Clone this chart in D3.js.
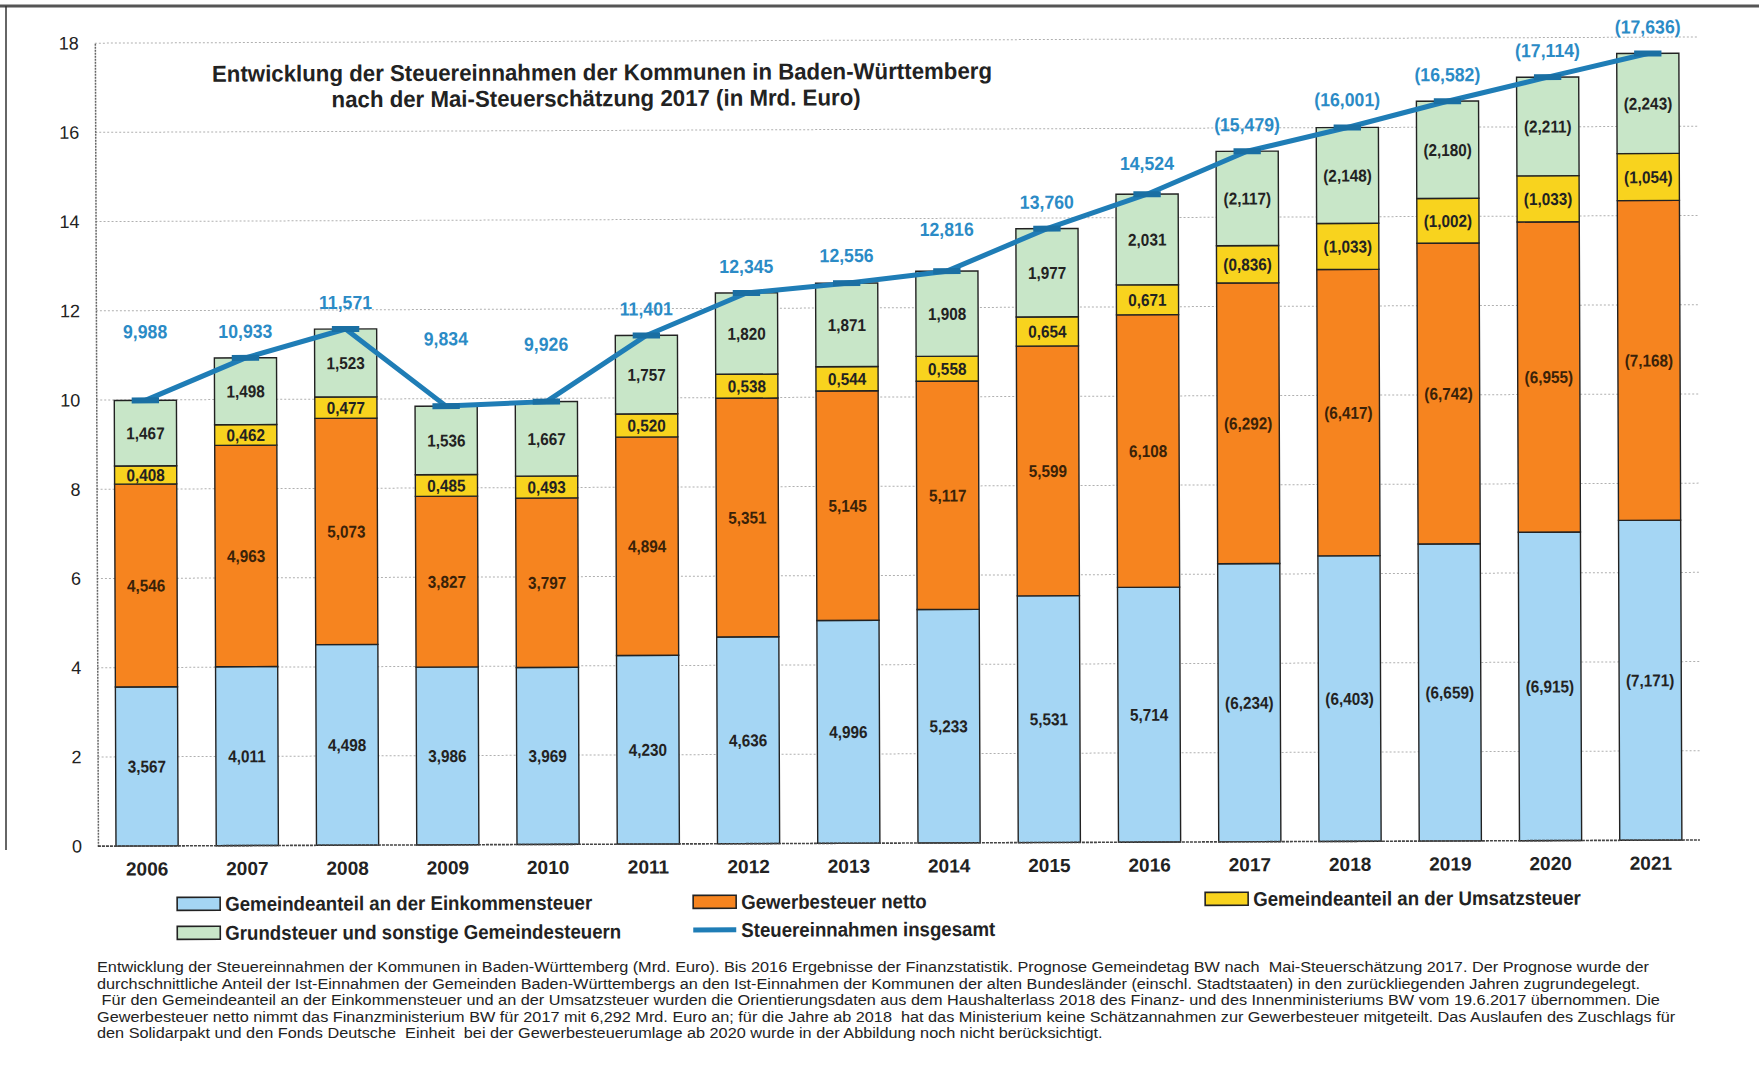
<!DOCTYPE html>
<html>
<head>
<meta charset="utf-8">
<script src="https://cdn.jsdelivr.net/npm/d3@7"></script>
<style>
  html, body { margin: 0; padding: 0; background: #fff; }
  svg { display: block; font-family: "Liberation Sans", Arial, sans-serif; }
</style>
</head>
<body>
<svg id="chart" width="1759" height="1076"></svg>
<script>
// ---------- data ----------
const years = ["2006","2007","2008","2009","2010","2011","2012","2013","2014","2015","2016","2017","2018","2019","2020","2021"];
const forecastFrom = "2017";
const einkommensteuer = [3.567, 4.011, 4.498, 3.986, 3.969, 4.230, 4.636, 4.996, 5.233, 5.531, 5.714, 6.234, 6.403, 6.659, 6.915, 7.171];
const gewerbesteuer   = [4.546, 4.963, 5.073, 3.827, 3.797, 4.894, 5.351, 5.145, 5.117, 5.599, 6.108, 6.292, 6.417, 6.742, 6.955, 7.168];
const umsatzsteuer    = [0.408, 0.462, 0.477, 0.485, 0.493, 0.520, 0.538, 0.544, 0.558, 0.654, 0.671, 0.836, 1.033, 1.002, 1.033, 1.054];
const grundsteuer     = [1.467, 1.498, 1.523, 1.536, 1.667, 1.757, 1.820, 1.871, 1.908, 1.977, 2.031, 2.117, 2.148, 2.180, 2.211, 2.243];
const insgesamt       = [9.988, 10.933, 11.571, 9.834, 9.926, 11.401, 12.345, 12.556, 12.816, 13.760, 14.524, 15.479, 16.001, 16.582, 17.114, 17.636];
const yTicks = [0, 2, 4, 6, 8, 10, 12, 14, 16, 18];

const seriesNames = [
  "Gemeindeanteil an der Einkommensteuer",
  "Gewerbesteuer netto",
  "Gemeindeanteil an der Umsatzsteuer",
  "Grundsteuer und sonstige Gemeindesteuern"
];
const lineName = "Steuereinnahmen insgesamt";
const titleLines = [
  "Entwicklung der Steuereinnahmen der Kommunen in Baden-Württemberg",
  "nach der Mai-Steuerschätzung 2017 (in Mrd. Euro)"
];
const footnoteLines = [
  "Entwicklung der Steuereinnahmen der Kommunen in Baden-Württemberg (Mrd. Euro). Bis 2016 Ergebnisse der Finanzstatistik. Prognose Gemeindetag BW nach  Mai-Steuerschätzung 2017. Der Prognose wurde der",
  "durchschnittliche Anteil der Ist-Einnahmen der Gemeinden Baden-Württembergs an den Ist-Einnahmen der Kommunen der alten Bundesländer (einschl. Stadtstaaten) in den zurückliegenden Jahren zugrundegelegt.",
  " Für den Gemeindeanteil an der Einkommensteuer und an der Umsatzsteuer wurden die Orientierungsdaten aus dem Haushalterlass 2018 des Finanz- und des Innenministeriums BW vom 19.6.2017 übernommen. Die",
  "Gewerbesteuer netto nimmt das Finanzministerium BW für 2017 mit 6,292 Mrd. Euro an; für die Jahre ab 2018  hat das Ministerium keine Schätzannahmen zur Gewerbesteuer mitgeteilt. Das Auslaufen des Zuschlags für",
  "den Solidarpakt und den Fonds Deutsche  Einheit  bei der Gewerbesteuerumlage ab 2020 wurde in der Abbildung noch nicht berücksichtigt."
];

// ---------- styles ----------
const colors = ["#a5d6f4", "#f6841f", "#f8d31e", "#c8e6c8"];
const lineColor = "#1f7db6";
const totalLabelColor = "#2b8bc6";
const textColor = "#222";

// ---------- helpers ----------
function squeeze(sel, factor) {
  sel.each(function () {
    const w = this.getComputedTextLength();
    d3.select(this).attr("textLength", w * factor).attr("lengthAdjust", "spacingAndGlyphs");
  });
}

// ---------- setup ----------
const root = d3.select("#chart");
const W = 1759, H = 1076;

// frame lines of the scanned page
root.append("line").attr("x1", 0).attr("x2", W).attr("y1", 6).attr("y2", 6)
  .attr("stroke", "#555").attr("stroke-width", 3);
root.append("line").attr("x1", 6).attr("x2", 6).attr("y1", 6).attr("y2", 850)
  .attr("stroke", "#333").attr("stroke-width", 1.5);

// the scanned chart is slightly tilted
const svg = root.append("g").attr("transform", "rotate(-0.22, 400, 600)");

const x = d3.scaleBand().domain(years).range([97, 1699]).paddingInner(0.38).paddingOuter(0.18);
const y = d3.scaleLinear().domain([0, 18]).range([845, 42]);

const fmt = v => d3.format(".3f")(v).replace(".", ",");
const isForecast = yr => +yr >= +forecastFrom;
const lab = (v, yr) => isForecast(yr) ? "(" + fmt(v) + ")" : fmt(v);

// gridlines
const grid = svg.append("g");
grid.selectAll("line").data(yTicks.filter(d => d > 0)).join("line")
  .attr("x1", x.range()[0]).attr("x2", x.range()[1])
  .attr("y1", d => y(d)).attr("y2", d => y(d))
  .attr("stroke", "#b0b0b0").attr("stroke-width", 1).attr("stroke-dasharray", "2,2");

// y axis
const yAxis = d3.axisLeft(y).tickValues(yTicks).tickSize(0).tickPadding(16).tickFormat(d3.format("d"));
const ya = svg.append("g").attr("transform", `translate(${x.range()[0]},0)`).call(yAxis);
ya.select(".domain").attr("stroke", "#666").attr("stroke-width", 1.5).attr("stroke-dasharray", "2,1");
ya.selectAll("text").attr("font-size", 18).attr("fill", textColor)
  .attr("font-family", "'Liberation Sans', Arial, sans-serif");

// stacked data
const rows = years.map((yr, i) => ({
  year: yr,
  s0: einkommensteuer[i], s1: gewerbesteuer[i], s2: umsatzsteuer[i], s3: grundsteuer[i]
}));
const stack = d3.stack().keys(["s0", "s1", "s2", "s3"]);
const layers = stack(rows);

const barG = svg.append("g");
layers.forEach((layer, li) => {
  barG.append("g").selectAll("rect").data(layer).join("rect")
    .attr("x", d => x(d.data.year))
    .attr("width", x.bandwidth())
    .attr("y", d => y(d[1]))
    .attr("height", d => y(d[0]) - y(d[1]))
    .attr("fill", colors[li])
    .attr("stroke", "#222").attr("stroke-width", 1.4);
});

// baseline
svg.append("line").attr("x1", x.range()[0]).attr("x2", x.range()[1])
  .attr("y1", y(0)).attr("y2", y(0))
  .attr("stroke", "#444").attr("stroke-width", 1.6).attr("stroke-dasharray", "3,1");

// segment labels
const labG = svg.append("g").attr("font-weight", "bold").attr("font-size", 17)
  .attr("text-anchor", "middle").attr("fill", textColor);
layers.forEach((layer, li) => {
  const t = labG.append("g").selectAll("text").data(layer).join("text")
    .attr("x", d => x(d.data.year) + x.bandwidth() / 2)
    .attr("y", d => y((d[0] + d[1]) / 2))
    .attr("dy", "0.36em")
    .attr("fill", li === 1 ? "#3a2208" : textColor)
    .text(d => lab(d[1] - d[0], d.data.year));
  squeeze(t, 0.9);
});

// total line
const cx = yr => x(yr) + x.bandwidth() / 2;
const line = d3.line().x((d, i) => cx(years[i])).y(d => y(d));
svg.append("path").datum(insgesamt).attr("d", line)
  .attr("fill", "none").attr("stroke", lineColor).attr("stroke-width", 5)
  .attr("stroke-linejoin", "round").attr("stroke-linecap", "round");
svg.append("g").selectAll("rect").data(insgesamt).join("rect")
  .attr("x", (d, i) => cx(years[i]) - x.bandwidth() * 0.22)
  .attr("width", x.bandwidth() * 0.44)
  .attr("y", d => y(d) - 3).attr("height", 6)
  .attr("fill", "#1a6fa3");

// total labels, lifted above the line around each point
const tl = svg.append("g").selectAll("text").data(insgesamt).join("text")
  .attr("x", (d, i) => cx(years[i]))
  .attr("y", (d, i) => {
    const nb = [insgesamt[i - 1], insgesamt[i + 1]].filter(v => v !== undefined);
    const level = Math.max(d, d3.mean(nb));
    return y(level) - 20;
  })
  .attr("text-anchor", "middle").attr("font-weight", "bold").attr("font-size", 19)
  .attr("fill", totalLabelColor)
  .text((d, i) => lab(d, years[i]));
squeeze(tl, 0.93);

// x axis labels
const xAxis = d3.axisBottom(x).tickSize(0).tickPadding(16);
const xa = svg.append("g").attr("transform", `translate(0,${y(0)})`).call(xAxis);
xa.select(".domain").remove();
xa.selectAll("text").attr("font-size", 19).attr("font-weight", "bold").attr("fill", textColor)
  .attr("font-family", "'Liberation Sans', Arial, sans-serif");

// title
const tG = svg.append("g").attr("font-weight", "bold").attr("font-size", 23).attr("fill", textColor)
  .attr("text-anchor", "middle");
const t1 = tG.append("text").attr("x", 604).attr("y", 81).text(titleLines[0]);
const t2 = tG.append("text").attr("x", 598).attr("y", 107).text(titleLines[1]);
const tScale = 780 / t1.node().getComputedTextLength();
squeeze(tG.selectAll("text"), tScale);

// legend
const legItems = [
  { type: "rect", color: colors[0], name: seriesNames[0], x: 176, y: 903 },
  { type: "rect", color: colors[1], name: seriesNames[1], x: 692, y: 903 },
  { type: "rect", color: colors[2], name: seriesNames[2], x: 1204, y: 902 },
  { type: "rect", color: colors[3], name: seriesNames[3], x: 176, y: 932 },
  { type: "line", color: lineColor, name: lineName, x: 692, y: 931 }
];
const lg = svg.append("g");
legItems.forEach(it => {
  if (it.type === "rect") {
    lg.append("rect").attr("x", it.x).attr("y", it.y - 6.5).attr("width", 43).attr("height", 13)
      .attr("fill", it.color).attr("stroke", "#222").attr("stroke-width", 1.6);
  } else {
    lg.append("line").attr("x1", it.x).attr("x2", it.x + 43).attr("y1", it.y).attr("y2", it.y)
      .attr("stroke", it.color).attr("stroke-width", 5);
  }
  lg.append("text").attr("class", "legtxt").attr("x", it.x + 48).attr("y", it.y).attr("dy", "0.36em")
    .attr("font-size", 20).attr("font-weight", "bold").attr("fill", textColor).text(it.name);
});
const legTexts = lg.selectAll("text.legtxt");
const lScale = 367 / legTexts.node().getComputedTextLength();
squeeze(legTexts, lScale);

// footnote (kept level so its lines do not overlap)
const fG = root.append("g").attr("font-size", 14).attr("fill", textColor);
const fTexts = footnoteLines.map((s, i) =>
  fG.append("text").attr("x", 97).attr("y", 972 + i * 16.5).style("white-space", "pre").text(s));
const fScale = 1552 / fTexts[0].node().getComputedTextLength();
squeeze(fG.selectAll("text"), fScale);
</script>
</body>
</html>
